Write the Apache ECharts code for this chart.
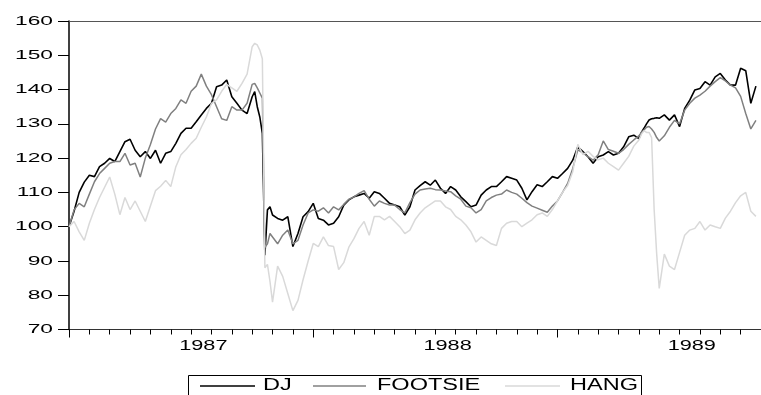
<!DOCTYPE html>
<html>
<head>
<meta charset="utf-8">
<script src="https://cdn.jsdelivr.net/npm/echarts@6/dist/echarts.min.js"></script>
<style>
  html, body { margin: 0; padding: 0; background: #fff; }
  #chart { width: 761px; height: 395px; }
</style>
</head>
<body>
<div id="chart"></div>
<script>
// Daily index levels, Jan 1987 = 100, sampled four times a month
// (eight times in Oct 1987 and May 1989 to catch the crashes).
const seriesNames = ['DJ', 'FOOTSIE', 'HANG'];
const yearLabels = ['1987', '1988', '1989'];
const yTicks = [70, 80, 90, 100, 110, 120, 130, 140, 150, 160];
const fineMonths = [9, 28];

const dj = [
  100, 104.5, 110, 113,
  115, 114.6, 117.5, 118.5,
  119.9, 119, 121.9, 124.8,
  125.5, 122.3, 120.4, 121.9,
  119.9, 122.3, 118.5, 121.4,
  121.9, 124.3, 127.2, 128.7,
  128.7, 130.6, 132.6, 134.5,
  136, 140.8, 141.3, 142.8,
  137.9, 136, 134, 133,
  137.9, 139.4, 135, 132, 127.2, 91.7, 104.9, 105.8,
  103.4, 102.4, 101.9, 102.9,
  94.2, 98, 102.9, 104.4,
  106.8, 102.4, 101.9, 100.5,
  101, 102.9, 106.3, 107.8,
  108.7, 109.2, 109.7, 108.3,
  110.2, 109.7, 108.3, 106.8,
  106.3, 105.8, 103.4, 105.8,
  110.7, 112, 113.1, 112.1,
  113.6, 111.2, 109.7, 111.7,
  110.7, 108.7, 107.3, 105.8,
  106.3, 109.2, 110.7, 111.7,
  111.7, 113.1, 114.6, 114.1,
  113.6, 111.2, 107.8, 110.2,
  112.2, 111.7, 113.1, 114.6,
  114.1, 115.5, 117, 119.4,
  123.3, 121.9, 120.4, 118.5,
  120.4, 120.9, 121.9, 120.9,
  121.4, 123.3, 126.2, 126.7,
  125.7, 127.5, 128.7, 130, 131.1, 131.5, 131.6, 131.8,
  131.6, 132.6, 131.1, 132.6,
  129.2, 134.5, 136.9, 139.9,
  140.3, 142.3, 141.3, 143.7,
  144.7, 142.8, 141.3, 141.3,
  146.2, 145.5, 136, 141
];

const footsie = [
  100, 104.9, 106.8, 105.8,
  109.5, 113.1, 115.5, 117,
  118.5, 119, 119, 121.4,
  118, 118.5, 114.5, 120,
  124, 128.5, 131.5, 130.5,
  133, 134.5, 137, 136,
  139.5, 141, 144.5, 141,
  138.5, 135, 131.5, 131,
  135, 134, 134, 136,
  141.5, 141.8, 140.5, 139, 137.5, 94, 95, 98,
  97, 95, 97.5, 99,
  95, 96, 100.5, 104,
  104.9, 104.5, 105.5, 104,
  105.8, 104.9, 106.5, 108,
  108.7, 109.7, 110.5, 108,
  106, 107.5, 106.8, 106.3,
  106.3, 105, 104, 107,
  109.5, 110.7, 111, 111.2,
  110.8, 110.7, 110.4, 110.2,
  109, 108, 106, 105.5,
  104, 105, 107.5, 108.5,
  109.2, 109.5, 110.7, 110,
  109.5, 108.3, 107, 106,
  105.4, 104.8, 104.2, 106,
  107.5, 110, 112.6, 117,
  122.4, 121.5, 120.4, 119.4,
  121, 125, 122.5, 122,
  121.4, 122.5, 124, 125.3,
  126.5, 127.5, 128.2, 129, 129.2, 128.5, 127.5, 126,
  125, 126.5, 129, 131,
  130, 134, 136, 137.5,
  138.4, 139.5, 141, 142.3,
  143.5, 142.5, 141.3, 140.5,
  138, 133, 128.5, 131
];

const hang = [
  100, 101.5, 98.5, 96,
  101, 105, 108.5, 111.5,
  114.5, 109.5, 103.5, 108.5,
  105, 107.5, 104.5, 101.5,
  106, 110.5, 111.8, 113.5,
  111.7, 117.5, 121, 122.5,
  124.3, 125.8, 129, 132,
  136, 137, 139.5, 141.5,
  140.5, 139.5, 141.8, 144.5,
  152.5, 153.5, 153, 151.5, 149, 88, 89, 84,
  78, 88.5, 85.5, 80.5,
  75.5, 78.5, 84.5, 90,
  95.1, 94.2, 97, 94.5,
  94.2, 87.5, 89.5, 94,
  96.5, 99.5, 101.5, 97.5,
  103, 103, 102, 103,
  101.5, 100, 98, 99,
  102, 104, 105.5, 106.5,
  107.5, 107.5, 105.8, 105,
  103, 102, 100.5, 98.5,
  95.5, 97, 96, 95,
  94.5, 99.5, 101, 101.5,
  101.5, 100, 101, 102,
  103.5, 104, 103, 105,
  107.5, 110, 112, 116,
  124, 121, 122, 120.5,
  119.5, 120, 118.5, 117.5,
  116.5, 118.5, 120.5, 123.5,
  125.3, 127, 128, 127.5, 127.5, 126, 105, 92,
  82, 92, 88.5, 87.5,
  92.5, 97.5, 99, 99.5,
  101.5, 99, 100.5, 100,
  99.5, 102.5, 104.5, 107,
  109, 110, 104.5, 103
];

// Observation times in months since 1 Jan 1987.
const monthCount = 34;
const obsMonths = [];
for (let k = 0; k < monthCount; k++) {
  const n = fineMonths.includes(k) ? 8 : 4;
  for (let j = 0; j < n; j++) obsMonths.push(k + j / n);
}
const toPoints = vals => vals.map((v, i) => [obsMonths[i], v]);

const colors = ['#000000', '#808080', '#d9d9d9'];
const widths = [1.6, 1.5, 1.5];
const values = [dj, footsie, hang];

const chart = echarts.init(document.getElementById('chart'), null, { renderer: 'canvas' });

const hiddenAxisParts = { axisLabel: { show: false }, splitLine: { show: false } };

chart.setOption({
  animation: false,
  backgroundColor: '#ffffff',
  grid: { left: 69, top: 21, width: 698.4, height: 308.5, containLabel: false },
  xAxis: [
    Object.assign({
      type: 'value', min: 0, max: monthCount, interval: 1, position: 'bottom',
      axisLine: { show: true, onZero: false, lineStyle: { color: '#333', width: 1 } },
      axisTick: { show: true, length: 5, lineStyle: { color: '#000', width: 1 } }
    }, hiddenAxisParts),
    Object.assign({
      type: 'value', min: 0, max: monthCount, interval: 12, position: 'bottom',
      axisLine: { show: false, onZero: false },
      axisTick: { show: true, length: 8, lineStyle: { color: '#000', width: 1 } }
    }, hiddenAxisParts),
    Object.assign({
      type: 'value', min: 0, max: monthCount, position: 'top',
      axisLine: { show: true, onZero: false, lineStyle: { color: '#555', width: 1 } },
      axisTick: { show: false }
    }, hiddenAxisParts)
  ],
  yAxis: Object.assign({
    type: 'value', min: 70, max: 160, interval: 10,
    axisLine: { show: true, onZero: false, lineStyle: { color: '#000', width: 1.5 } },
    axisTick: { show: true, length: 11, lineStyle: { color: '#000', width: 1 } }
  }, hiddenAxisParts),
  series: seriesNames.map((name, i) => ({
    name: name,
    type: 'line',
    xAxisIndex: 0,
    yAxisIndex: 0,
    showSymbol: false,
    symbol: 'none',
    clip: true,
    lineStyle: { color: colors[i], width: widths[i] },
    data: toPoints(values[i]),
    z: 2 + i
  }))
});

// Tick labels and legend, drawn as horizontally widened text.
const px = (m, v) => chart.convertToPixel({ xAxisIndex: 0, yAxisIndex: 0 }, [m, v]);
const font = (size) => size + 'px "Liberation Sans", Arial, sans-serif';
const widened = (text, x, y, size, sx, align) => ({
  type: 'text', x: x, y: y, scaleX: sx, silent: true,
  style: {
    text: text, font: font(size), fill: '#000',
    align: align, verticalAlign: 'middle',
    textAlign: align, textVerticalAlign: 'middle'
  }
});

const graphics = [];
yTicks.forEach(v => {
  const p = px(0, v);
  graphics.push(widened(String(v), 53, p[1], 13, 1.75, 'right'));
});
const labelShift = 0.6;
yearLabels.forEach((label, k) => {
  const p = px(k * 12 + 6 + labelShift, 70);
  graphics.push(widened(label, p[0], 346, 14, 1.55, 'center'));
});

// Legend box
const legendTop = 375, legendLeft = 188, legendWidth = 453, legendMid = 386;
graphics.push({
  type: 'rect', silent: true,
  shape: { x: legendLeft + 0.5, y: legendTop + 0.5, width: legendWidth, height: 40 },
  style: { fill: 'none', stroke: '#000', lineWidth: 1 }
});
const legendLayout = [
  { line: [200, 255], text: 263 },
  { line: [313, 366], text: 377 },
  { line: [505, 560], text: 570 }
];
seriesNames.forEach((name, i) => {
  const L = legendLayout[i];
  graphics.push({
    type: 'line', silent: true,
    shape: { x1: L.line[0], y1: legendMid, x2: L.line[1], y2: legendMid },
    style: { stroke: colors[i], lineWidth: 1.5 }
  });
  graphics.push(widened(name, L.text, legendMid, 16, 1.47, 'left'));
});

chart.setOption({ graphic: { elements: graphics } });
</script>
</body>
</html>
